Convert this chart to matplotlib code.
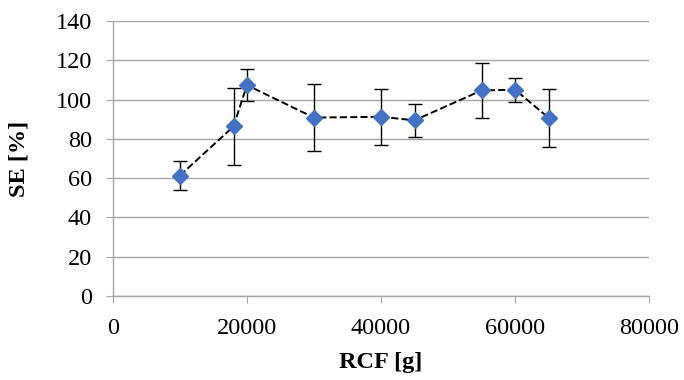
import matplotlib
matplotlib.use("Agg")
import matplotlib.pyplot as plt

# === Données
rcf = [10000, 18000, 20000, 30000, 40000, 45000, 55000, 60000, 65000]
se = [61.3, 86.3, 107.3, 90.8, 91.2, 89.4, 104.6, 105.0, 90.7]
se_err = [7.5, 19.7, 8.2, 17.0, 14.2, 8.3, 14.0, 6.1, 14.8]

plt.rcParams["font.family"] = ["Liberation Serif", "DejaVu Serif"]
grid_col = "#A6A6A6"

fig = plt.figure(figsize=(6.84, 3.8), dpi=100)
ax = fig.add_axes([0.165, 0.221, 0.784, 0.724])

ax.errorbar(rcf, se, yerr=se_err, fmt="none", ecolor="black",
            elinewidth=1.0, capsize=5, capthick=1.0, zorder=3)
ax.plot(rcf, se, linestyle="--", color="black", linewidth=1.4, zorder=4)
ax.plot(rcf, se, linestyle="none", marker="D", markersize=8,
        color="#4472C4", markeredgecolor="#4472C4", zorder=5)

ax.set_xlim(0, 80000)
ax.set_ylim(0, 140)
ax.set_xticks(range(0, 80001, 20000))
ax.set_yticks(range(0, 141, 20))
ax.yaxis.grid(True, color=grid_col, linewidth=1.0)
ax.set_axisbelow(True)

for s in ["top", "right"]:
    ax.spines[s].set_visible(False)
for s in ["left", "bottom"]:
    ax.spines[s].set_color(grid_col)
    ax.spines[s].set_linewidth(1.0)
ax.tick_params(axis="both", direction="out", length=5, color=grid_col,
               labelsize=17.5)
ax.tick_params(axis="x", pad=11)
ax.tick_params(axis="y", pad=10)

ax.set_xlabel("RCF [g]", fontsize=17.5, fontweight="bold")
ax.set_ylabel("SE [%]", fontsize=17.5, fontweight="bold")
ax.xaxis.set_label_coords(0.5, -0.205)
ax.yaxis.set_label_coords(-0.155, 0.5)

fig.savefig("out.png", dpi=100)
